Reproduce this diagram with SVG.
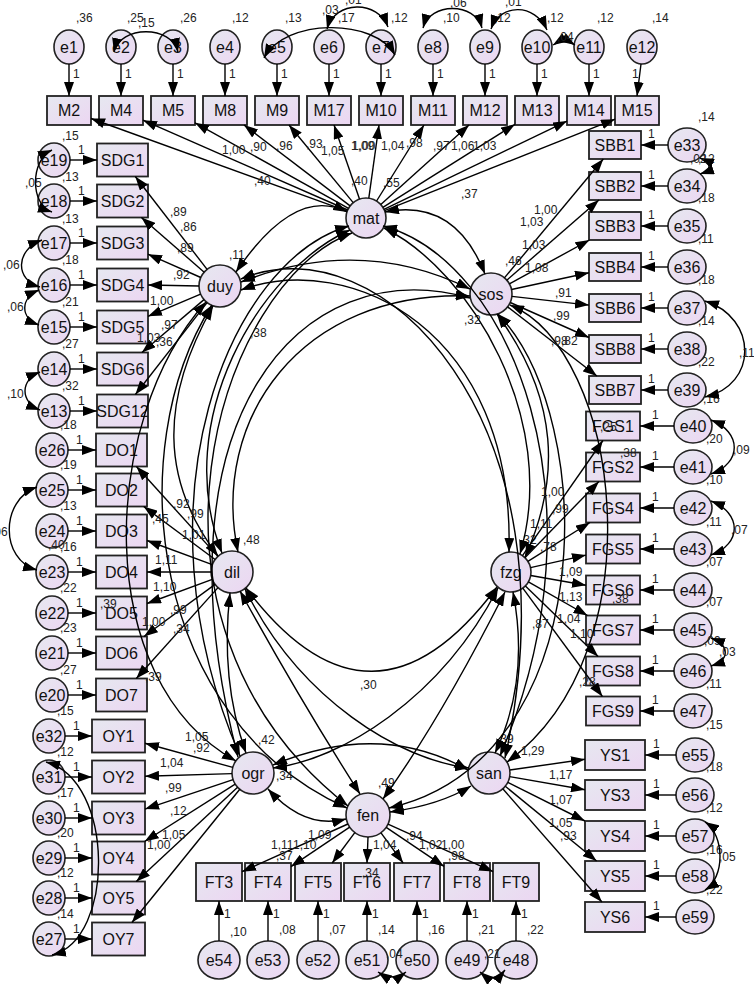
<svg xmlns="http://www.w3.org/2000/svg" width="754" height="984" viewBox="0 0 754 984">
<defs>
<linearGradient id="g" x1="0" y1="0" x2="1" y2="1"><stop offset="0" stop-color="#e6e8f0"/><stop offset="1" stop-color="#ecd6f2"/></linearGradient>
<marker id="a" viewBox="0 0 14 10" refX="14" refY="5" markerWidth="14" markerHeight="10" markerUnits="userSpaceOnUse" orient="auto-start-reverse"><path d="M0,0 L14,5 L0,10 z" fill="#000"/></marker>
<style>
.r{fill:url(#g);stroke:#222;stroke-width:1.8}
.c{fill:url(#g);stroke:#222;stroke-width:1.6}
.t{font-family:"Liberation Sans",Arial,sans-serif;font-size:16px;text-anchor:middle;fill:#111}
.v{font-family:"Liberation Sans",Arial,sans-serif;font-size:12px;fill:#222}
.l{fill:none;stroke:#000;stroke-width:1.4;marker-end:url(#a)}
.d{fill:none;stroke:#000;stroke-width:1.4;marker-start:url(#a);marker-end:url(#a)}
</style>
</defs>
<rect width="754" height="984" fill="#fff"/>
<g id="nodes">
<g id="e1"><ellipse class="c" cx="69" cy="47" rx="15" ry="17"/><text class="t" x="69" y="53">e1</text><text class="v" x="76" y="22">,36</text></g>
<g id="e2"><ellipse class="c" cx="121" cy="47" rx="15" ry="17"/><text class="t" x="121" y="53">e2</text><text class="v" x="127" y="22">,25</text></g>
<g id="e3"><ellipse class="c" cx="173" cy="47" rx="15" ry="17"/><text class="t" x="173" y="53">e3</text><text class="v" x="180" y="22">,26</text></g>
<g id="e4"><ellipse class="c" cx="225" cy="47" rx="15" ry="17"/><text class="t" x="225" y="53">e4</text><text class="v" x="232" y="22">,12</text></g>
<g id="e5"><ellipse class="c" cx="277" cy="47" rx="15" ry="17"/><text class="t" x="277" y="53">e5</text><text class="v" x="285" y="22">,13</text></g>
<g id="e6"><ellipse class="c" cx="329" cy="47" rx="15" ry="17"/><text class="t" x="329" y="53">e6</text><text class="v" x="338" y="22">,17</text></g>
<g id="e7"><ellipse class="c" cx="381" cy="47" rx="15" ry="17"/><text class="t" x="381" y="53">e7</text><text class="v" x="391" y="22">,12</text></g>
<g id="e8"><ellipse class="c" cx="433" cy="47" rx="15" ry="17"/><text class="t" x="433" y="53">e8</text><text class="v" x="443" y="22">,10</text></g>
<g id="e9"><ellipse class="c" cx="485" cy="47" rx="15" ry="17"/><text class="t" x="485" y="53">e9</text><text class="v" x="494" y="22">,12</text></g>
<g id="e10"><ellipse class="c" cx="537" cy="47" rx="15" ry="17"/><text class="t" x="537" y="53">e10</text><text class="v" x="547" y="22">,12</text></g>
<g id="e11"><ellipse class="c" cx="589" cy="47" rx="15" ry="17"/><text class="t" x="589" y="53">e11</text><text class="v" x="597" y="22">,12</text></g>
<g id="e12"><ellipse class="c" cx="642" cy="47" rx="15" ry="17"/><text class="t" x="642" y="53">e12</text><text class="v" x="652" y="22">,14</text></g>
<g id="M2"><rect class="r" x="47" y="96" width="44" height="29"/><text class="t" x="69" y="116">M2</text></g>
<g id="M4"><rect class="r" x="99" y="96" width="44" height="29"/><text class="t" x="121" y="116">M4</text></g>
<g id="M5"><rect class="r" x="151" y="96" width="44" height="29"/><text class="t" x="173" y="116">M5</text></g>
<g id="M8"><rect class="r" x="203" y="96" width="44" height="29"/><text class="t" x="225" y="116">M8</text></g>
<g id="M9"><rect class="r" x="255" y="96" width="44" height="29"/><text class="t" x="277" y="116">M9</text></g>
<g id="M17"><rect class="r" x="307" y="96" width="44" height="29"/><text class="t" x="329" y="116">M17</text></g>
<g id="M10"><rect class="r" x="359" y="96" width="44" height="29"/><text class="t" x="381" y="116">M10</text></g>
<g id="M11"><rect class="r" x="411" y="96" width="44" height="29"/><text class="t" x="433" y="116">M11</text></g>
<g id="M12"><rect class="r" x="463" y="96" width="44" height="29"/><text class="t" x="485" y="116">M12</text></g>
<g id="M13"><rect class="r" x="515" y="96" width="44" height="29"/><text class="t" x="537" y="116">M13</text></g>
<g id="M14"><rect class="r" x="567" y="96" width="44" height="29"/><text class="t" x="589" y="116">M14</text></g>
<g id="M15"><rect class="r" x="615" y="96" width="44" height="29"/><text class="t" x="637" y="116">M15</text></g>
<g id="e19"><ellipse class="c" cx="54" cy="160" rx="16" ry="17"/><text class="t" x="54" y="166">e19</text><text class="v" x="62" y="140">,15</text></g>
<g id="e18"><ellipse class="c" cx="54" cy="201" rx="16" ry="17"/><text class="t" x="54" y="207">e18</text><text class="v" x="62" y="181">,13</text></g>
<g id="e17"><ellipse class="c" cx="54" cy="243" rx="16" ry="17"/><text class="t" x="54" y="249">e17</text><text class="v" x="62" y="223">,13</text></g>
<g id="e16"><ellipse class="c" cx="54" cy="285" rx="16" ry="17"/><text class="t" x="54" y="291">e16</text><text class="v" x="62" y="264">,18</text></g>
<g id="e15"><ellipse class="c" cx="54" cy="327" rx="16" ry="17"/><text class="t" x="54" y="333">e15</text><text class="v" x="62" y="306">,21</text></g>
<g id="e14"><ellipse class="c" cx="54" cy="369" rx="16" ry="17"/><text class="t" x="54" y="375">e14</text><text class="v" x="62" y="348">,27</text></g>
<g id="e13"><ellipse class="c" cx="54" cy="411" rx="16" ry="17"/><text class="t" x="54" y="417">e13</text><text class="v" x="62" y="390">,32</text></g>
<g id="e26"><ellipse class="c" cx="52" cy="450" rx="16" ry="17"/><text class="t" x="52" y="456">e26</text><text class="v" x="60" y="429">,18</text></g>
<g id="e25"><ellipse class="c" cx="52" cy="490" rx="16" ry="17"/><text class="t" x="52" y="496">e25</text><text class="v" x="60" y="469">,19</text></g>
<g id="e24"><ellipse class="c" cx="52" cy="531" rx="16" ry="17"/><text class="t" x="52" y="537">e24</text><text class="v" x="60" y="510">,13</text></g>
<g id="e23"><ellipse class="c" cx="52" cy="572" rx="16" ry="17"/><text class="t" x="52" y="578">e23</text><text class="v" x="60" y="551">,16</text></g>
<g id="e22"><ellipse class="c" cx="52" cy="613" rx="16" ry="17"/><text class="t" x="52" y="619">e22</text><text class="v" x="60" y="592">,22</text></g>
<g id="e21"><ellipse class="c" cx="52" cy="653" rx="16" ry="17"/><text class="t" x="52" y="659">e21</text><text class="v" x="60" y="632">,23</text></g>
<g id="e20"><ellipse class="c" cx="52" cy="695" rx="16" ry="17"/><text class="t" x="52" y="701">e20</text><text class="v" x="60" y="674">,27</text></g>
<g id="e32"><ellipse class="c" cx="49" cy="736" rx="16" ry="17"/><text class="t" x="49" y="742">e32</text><text class="v" x="57" y="715">,15</text></g>
<g id="e31"><ellipse class="c" cx="49" cy="777" rx="16" ry="17"/><text class="t" x="49" y="783">e31</text><text class="v" x="57" y="756">,12</text></g>
<g id="e30"><ellipse class="c" cx="49" cy="818" rx="16" ry="17"/><text class="t" x="49" y="824">e30</text><text class="v" x="57" y="797">,17</text></g>
<g id="e29"><ellipse class="c" cx="49" cy="858" rx="16" ry="17"/><text class="t" x="49" y="864">e29</text><text class="v" x="57" y="837">,20</text></g>
<g id="e28"><ellipse class="c" cx="49" cy="898" rx="16" ry="17"/><text class="t" x="49" y="904">e28</text><text class="v" x="57" y="877">,12</text></g>
<g id="e27"><ellipse class="c" cx="49" cy="939" rx="16" ry="17"/><text class="t" x="49" y="945">e27</text><text class="v" x="57" y="918">,14</text></g>
<g id="SDG1"><rect class="r" x="97" y="143.5" width="51" height="33"/><text class="t" x="122.5" y="166">SDG1</text></g>
<g id="SDG2"><rect class="r" x="97" y="184.5" width="51" height="33"/><text class="t" x="122.5" y="207">SDG2</text></g>
<g id="SDG3"><rect class="r" x="97" y="226.5" width="51" height="33"/><text class="t" x="122.5" y="249">SDG3</text></g>
<g id="SDG4"><rect class="r" x="97" y="268.5" width="51" height="33"/><text class="t" x="122.5" y="291">SDG4</text></g>
<g id="SDG5"><rect class="r" x="97" y="310.5" width="51" height="33"/><text class="t" x="122.5" y="333">SDG5</text></g>
<g id="SDG6"><rect class="r" x="97" y="352.5" width="51" height="33"/><text class="t" x="122.5" y="375">SDG6</text></g>
<g id="SDG12"><rect class="r" x="97" y="394.5" width="51" height="33"/><text class="t" x="122.5" y="417">SDG12</text></g>
<g id="DO1"><rect class="r" x="96" y="433.5" width="51" height="33"/><text class="t" x="121.5" y="456">DO1</text></g>
<g id="DO2"><rect class="r" x="96" y="473.5" width="51" height="33"/><text class="t" x="121.5" y="496">DO2</text></g>
<g id="DO3"><rect class="r" x="96" y="514.5" width="51" height="33"/><text class="t" x="121.5" y="537">DO3</text></g>
<g id="DO4"><rect class="r" x="96" y="555.5" width="51" height="33"/><text class="t" x="121.5" y="578">DO4</text></g>
<g id="DO5"><rect class="r" x="96" y="596.5" width="51" height="33"/><text class="t" x="121.5" y="619">DO5</text></g>
<g id="DO6"><rect class="r" x="96" y="636.5" width="51" height="33"/><text class="t" x="121.5" y="659">DO6</text></g>
<g id="DO7"><rect class="r" x="96" y="678.5" width="51" height="33"/><text class="t" x="121.5" y="701">DO7</text></g>
<g id="OY1"><rect class="r" x="92" y="719.5" width="53" height="33"/><text class="t" x="118.5" y="742">OY1</text></g>
<g id="OY2"><rect class="r" x="92" y="760.5" width="53" height="33"/><text class="t" x="118.5" y="783">OY2</text></g>
<g id="OY3"><rect class="r" x="92" y="801.5" width="53" height="33"/><text class="t" x="118.5" y="824">OY3</text></g>
<g id="OY4"><rect class="r" x="92" y="841.5" width="53" height="33"/><text class="t" x="118.5" y="864">OY4</text></g>
<g id="OY5"><rect class="r" x="92" y="881.5" width="53" height="33"/><text class="t" x="118.5" y="904">OY5</text></g>
<g id="OY7"><rect class="r" x="92" y="922.5" width="53" height="33"/><text class="t" x="118.5" y="945">OY7</text></g>
<g id="SBB1"><rect class="r" x="589" y="131" width="52" height="28"/><text class="t" x="615" y="151">SBB1</text></g>
<g id="SBB2"><rect class="r" x="589" y="172" width="52" height="28"/><text class="t" x="615" y="192">SBB2</text></g>
<g id="SBB3"><rect class="r" x="589" y="212" width="52" height="28"/><text class="t" x="615" y="232">SBB3</text></g>
<g id="SBB4"><rect class="r" x="589" y="253" width="52" height="28"/><text class="t" x="615" y="273">SBB4</text></g>
<g id="SBB6"><rect class="r" x="589" y="294" width="52" height="28"/><text class="t" x="615" y="314">SBB6</text></g>
<g id="SBB8"><rect class="r" x="589" y="335" width="52" height="28"/><text class="t" x="615" y="355">SBB8</text></g>
<g id="SBB7"><rect class="r" x="589" y="376" width="52" height="28"/><text class="t" x="615" y="396">SBB7</text></g>
<g id="FGS1"><rect class="r" x="586" y="411.5" width="54" height="29"/><text class="t" x="613" y="432">FGS1</text></g>
<g id="FGS2"><rect class="r" x="586" y="452.5" width="54" height="29"/><text class="t" x="613" y="473">FGS2</text></g>
<g id="FGS4"><rect class="r" x="586" y="493.5" width="54" height="29"/><text class="t" x="613" y="514">FGS4</text></g>
<g id="FGS5"><rect class="r" x="586" y="534.5" width="54" height="29"/><text class="t" x="613" y="555">FGS5</text></g>
<g id="FGS6"><rect class="r" x="586" y="575.5" width="54" height="29"/><text class="t" x="613" y="596">FGS6</text></g>
<g id="FGS7"><rect class="r" x="586" y="615.5" width="54" height="29"/><text class="t" x="613" y="636">FGS7</text></g>
<g id="FGS8"><rect class="r" x="586" y="656.5" width="54" height="29"/><text class="t" x="613" y="677">FGS8</text></g>
<g id="FGS9"><rect class="r" x="586" y="696.5" width="54" height="29"/><text class="t" x="613" y="717">FGS9</text></g>
<g id="YS1"><rect class="r" x="585" y="740" width="60" height="30"/><text class="t" x="615" y="761">YS1</text></g>
<g id="YS3"><rect class="r" x="585" y="780" width="60" height="30"/><text class="t" x="615" y="801">YS3</text></g>
<g id="YS4"><rect class="r" x="585" y="821" width="60" height="30"/><text class="t" x="615" y="842">YS4</text></g>
<g id="YS5"><rect class="r" x="585" y="861" width="60" height="30"/><text class="t" x="615" y="882">YS5</text></g>
<g id="YS6"><rect class="r" x="585" y="902" width="60" height="30"/><text class="t" x="615" y="923">YS6</text></g>
<g id="e33"><ellipse class="c" cx="687" cy="145" rx="19" ry="17"/><text class="t" x="687" y="151">e33</text><text class="v" x="698" y="121">,14</text></g>
<g id="e34"><ellipse class="c" cx="687" cy="186" rx="19" ry="17"/><text class="t" x="687" y="192">e34</text><text class="v" x="698" y="163">,12</text></g>
<g id="e35"><ellipse class="c" cx="687" cy="226" rx="19" ry="17"/><text class="t" x="687" y="232">e35</text><text class="v" x="698" y="202">,18</text></g>
<g id="e36"><ellipse class="c" cx="687" cy="267" rx="19" ry="17"/><text class="t" x="687" y="273">e36</text><text class="v" x="698" y="243">,11</text></g>
<g id="e37"><ellipse class="c" cx="687" cy="308" rx="19" ry="17"/><text class="t" x="687" y="314">e37</text><text class="v" x="698" y="284">,18</text></g>
<g id="e38"><ellipse class="c" cx="687" cy="349" rx="19" ry="17"/><text class="t" x="687" y="355">e38</text><text class="v" x="698" y="325">,14</text></g>
<g id="e39"><ellipse class="c" cx="687" cy="390" rx="19" ry="17"/><text class="t" x="687" y="396">e39</text><text class="v" x="698" y="366">,22</text></g>
<g id="e40"><ellipse class="c" cx="693" cy="426" rx="19" ry="17"/><text class="t" x="693" y="432">e40</text><text class="v" x="703" y="403">,16</text></g>
<g id="e41"><ellipse class="c" cx="693" cy="467" rx="19" ry="17"/><text class="t" x="693" y="473">e41</text><text class="v" x="706" y="443">,20</text></g>
<g id="e42"><ellipse class="c" cx="693" cy="508" rx="19" ry="17"/><text class="t" x="693" y="514">e42</text><text class="v" x="706" y="484">,10</text></g>
<g id="e43"><ellipse class="c" cx="693" cy="549" rx="19" ry="17"/><text class="t" x="693" y="555">e43</text><text class="v" x="706" y="526">,11</text></g>
<g id="e44"><ellipse class="c" cx="693" cy="590" rx="19" ry="17"/><text class="t" x="693" y="596">e44</text><text class="v" x="706" y="566">,07</text></g>
<g id="e45"><ellipse class="c" cx="693" cy="630" rx="19" ry="17"/><text class="t" x="693" y="636">e45</text><text class="v" x="706" y="606">,07</text></g>
<g id="e46"><ellipse class="c" cx="693" cy="671" rx="19" ry="17"/><text class="t" x="693" y="677">e46</text><text class="v" x="704" y="645">,09</text></g>
<g id="e47"><ellipse class="c" cx="693" cy="711" rx="19" ry="17"/><text class="t" x="693" y="717">e47</text><text class="v" x="706" y="688">,11</text></g>
<g id="e55"><ellipse class="c" cx="695" cy="755" rx="19" ry="17"/><text class="t" x="695" y="761">e55</text><text class="v" x="706" y="729">,15</text></g>
<g id="e56"><ellipse class="c" cx="695" cy="795" rx="19" ry="17"/><text class="t" x="695" y="801">e56</text><text class="v" x="706" y="771">,18</text></g>
<g id="e57"><ellipse class="c" cx="695" cy="836" rx="19" ry="17"/><text class="t" x="695" y="842">e57</text><text class="v" x="706" y="812">,12</text></g>
<g id="e58"><ellipse class="c" cx="695" cy="876" rx="19" ry="17"/><text class="t" x="695" y="882">e58</text><text class="v" x="706" y="854">,16</text></g>
<g id="e59"><ellipse class="c" cx="695" cy="917" rx="19" ry="17"/><text class="t" x="695" y="923">e59</text><text class="v" x="706" y="894">,22</text></g>
<g id="FT3"><rect class="r" x="196" y="863" width="46" height="38"/><text class="t" x="219" y="888">FT3</text></g>
<g id="FT4"><rect class="r" x="245" y="863" width="46" height="38"/><text class="t" x="268" y="888">FT4</text></g>
<g id="FT5"><rect class="r" x="295" y="863" width="46" height="38"/><text class="t" x="318" y="888">FT5</text></g>
<g id="FT6"><rect class="r" x="344" y="863" width="46" height="38"/><text class="t" x="367" y="888">FT6</text></g>
<g id="FT7"><rect class="r" x="394" y="863" width="46" height="38"/><text class="t" x="417" y="888">FT7</text></g>
<g id="FT8"><rect class="r" x="444" y="863" width="46" height="38"/><text class="t" x="467" y="888">FT8</text></g>
<g id="FT9"><rect class="r" x="493" y="863" width="46" height="38"/><text class="t" x="516" y="888">FT9</text></g>
<g id="e54"><ellipse class="c" cx="219" cy="960" rx="21" ry="19"/><text class="t" x="219" y="966">e54</text><text class="v" x="230" y="936">,10</text></g>
<g id="e53"><ellipse class="c" cx="268" cy="960" rx="21" ry="19"/><text class="t" x="268" y="966">e53</text><text class="v" x="279" y="934">,08</text></g>
<g id="e52"><ellipse class="c" cx="318" cy="960" rx="21" ry="19"/><text class="t" x="318" y="966">e52</text><text class="v" x="329" y="934">,07</text></g>
<g id="e51"><ellipse class="c" cx="367" cy="960" rx="21" ry="19"/><text class="t" x="367" y="966">e51</text><text class="v" x="378" y="934">,14</text></g>
<g id="e50"><ellipse class="c" cx="417" cy="960" rx="21" ry="19"/><text class="t" x="417" y="966">e50</text><text class="v" x="428" y="934">,16</text></g>
<g id="e49"><ellipse class="c" cx="467" cy="960" rx="21" ry="19"/><text class="t" x="467" y="966">e49</text><text class="v" x="478" y="934">,21</text></g>
<g id="e48"><ellipse class="c" cx="516" cy="960" rx="21" ry="19"/><text class="t" x="516" y="966">e48</text><text class="v" x="527" y="934">,22</text></g>
<g id="mat"><circle class="c" cx="366" cy="218" r="20"/><text class="t" x="366" y="224">mat</text><text class="v" x="383" y="187">,55</text></g>
<g id="duy"><circle class="c" cx="220" cy="286" r="21"/><text class="t" x="220" y="292">duy</text><text class="v" x="229" y="259">,11</text></g>
<g id="sos"><circle class="c" cx="491" cy="294" r="21"/><text class="t" x="491" y="300">sos</text><text class="v" x="464" y="324">,32</text></g>
<g id="dil"><circle class="c" cx="232" cy="572" r="21"/><text class="t" x="232" y="578">dil</text><text class="v" x="243" y="544">,48</text></g>
<g id="fzg"><circle class="c" cx="511" cy="572" r="20"/><text class="t" x="511" y="578">fzg</text><text class="v" x="520" y="544">,32</text></g>
<g id="ogr"><circle class="c" cx="253" cy="773" r="21"/><text class="t" x="253" y="779">ogr</text><text class="v" x="258" y="744">,42</text></g>
<g id="fen"><circle class="c" cx="368" cy="815" r="22"/><text class="t" x="368" y="821">fen</text><text class="v" x="378" y="787">,49</text></g>
<g id="san"><circle class="c" cx="489" cy="773" r="21"/><text class="t" x="489" y="779">san</text><text class="v" x="497" y="743">,39</text></g>
</g>
<g id="connectors">
<path class="l" d="M69,64V96"/><path class="l" d="M121,64V96"/><path class="l" d="M173,64V96"/><path class="l" d="M225,64V96"/><path class="l" d="M277,64V96"/><path class="l" d="M329,64V96"/><path class="l" d="M381,64V96"/><path class="l" d="M433,64V96"/><path class="l" d="M485,64V96"/><path class="l" d="M537,64V96"/><path class="l" d="M589,64V96"/><path class="l" d="M641,64L637,96"/>
<path class="l" d="M70,160H97"/><path class="l" d="M70,201H97"/><path class="l" d="M70,243H97"/><path class="l" d="M70,285H97"/><path class="l" d="M70,327H97"/><path class="l" d="M70,369H97"/><path class="l" d="M70,411H97"/><path class="l" d="M68,450H96"/><path class="l" d="M68,490H96"/><path class="l" d="M68,531H96"/><path class="l" d="M68,572H96"/><path class="l" d="M68,613H96"/><path class="l" d="M68,653H96"/><path class="l" d="M68,695H96"/><path class="l" d="M65,736H92"/><path class="l" d="M65,777H92"/><path class="l" d="M65,818H92"/><path class="l" d="M65,858H92"/><path class="l" d="M65,898H92"/><path class="l" d="M65,939H92"/>
<path class="l" d="M668,145H641"/><path class="l" d="M668,186H641"/><path class="l" d="M668,226H641"/><path class="l" d="M668,267H641"/><path class="l" d="M668,308H641"/><path class="l" d="M668,349H641"/><path class="l" d="M668,390H641"/><path class="l" d="M674,426H640"/><path class="l" d="M674,467H640"/><path class="l" d="M674,508H640"/><path class="l" d="M674,549H640"/><path class="l" d="M674,590H640"/><path class="l" d="M674,630H640"/><path class="l" d="M674,671H640"/><path class="l" d="M674,711H640"/><path class="l" d="M676,755H645"/><path class="l" d="M676,795H645"/><path class="l" d="M676,836H645"/><path class="l" d="M676,876H645"/><path class="l" d="M676,917H645"/>
<path class="l" d="M219,941V901"/><path class="l" d="M268,941V901"/><path class="l" d="M318,941V901"/><path class="l" d="M367,941V901"/><path class="l" d="M417,941V901"/><path class="l" d="M467,941V901"/><path class="l" d="M516,941V901"/>
<path class="l" d="M347.2,211.2L91,118.5"/><path class="l" d="M347.7,210L143,120.2"/><path class="l" d="M348.5,208.3L195,122.8"/><path class="l" d="M350.1,205.9L244,125"/><path class="l" d="M353.2,202.6L289,125"/><path class="l" d="M359.5,199.1L334,125"/><path class="l" d="M368.8,198.2L379,125"/><path class="l" d="M376.6,201L424,125"/><path class="l" d="M380.8,204.6L469,125"/><path class="l" d="M382.9,207.4L515,124.3"/><path class="l" d="M384,209.3L567,121.1"/><path class="l" d="M384.6,210.6L615,119.2"/>
<path class="l" d="M207.1,269.4L135.3,176.5"/><path class="l" d="M204.2,272.2L141.4,217.5"/><path class="l" d="M200.8,277.5L148,254.2"/><path class="l" d="M199,286L148,285"/><path class="l" d="M200.6,294.1L148,316.3"/><path class="l" d="M204,299.6L141.9,352.5"/><path class="l" d="M207.1,302.6L135.4,394.5"/>
<path class="l" d="M504.4,277.9L603.3,159"/><path class="l" d="M506.8,280.2L598.9,200"/><path class="l" d="M509.4,283.9L589.5,240"/><path class="l" d="M511.5,289.5L589,272.7"/><path class="l" d="M511.9,296.4L589,305.1"/><path class="l" d="M510.2,302.5L589,337.5"/><path class="l" d="M507.6,306.9L596.9,376"/>
<path class="l" d="M522.5,555.6L602.9,440.5"/><path class="l" d="M524.9,557.7L598.9,481.5"/><path class="l" d="M527.9,561.4L589.9,522.5"/><path class="l" d="M530.5,567.6L586,555.1"/><path class="l" d="M530.7,575.5L586,585.2"/><path class="l" d="M528.4,581.9L587.5,615.5"/><path class="l" d="M525.4,585.9L598.1,656.5"/><path class="l" d="M522.8,588.1L602.4,696.5"/>
<path class="l" d="M217.9,556.4L136.4,466.5"/><path class="l" d="M215.1,559.5L143.7,506.5"/><path class="l" d="M212.3,564.7L147,540.5"/><path class="l" d="M211,572L147,572"/><path class="l" d="M212.3,579.3L147,603.5"/><path class="l" d="M215.1,584.4L144,636.5"/><path class="l" d="M218,587.6L136.3,678.5"/>
<path class="l" d="M232.8,767.4L145,743.3"/><path class="l" d="M232,773.6L145,776.2"/><path class="l" d="M233.1,779.7L145,809.1"/><path class="l" d="M235.2,784.2L144.6,841.5"/><path class="l" d="M237.6,787.3L136.3,881.5"/><path class="l" d="M239.8,789.3L131.9,922.5"/>
<path class="l" d="M347.9,824L242,871.7"/><path class="l" d="M349.7,827.2L291,866.6"/><path class="l" d="M354.8,832.6L332.2,863"/><path class="l" d="M368,837L367,863"/><path class="l" d="M381,832.8L403.1,863"/><path class="l" d="M386.2,827.3L444,866.4"/><path class="l" d="M388,824.1L493,871.6"/>
<path class="l" d="M509.8,770L585,759.3"/><path class="l" d="M509.7,776.6L585,789.8"/><path class="l" d="M507.8,782.4L585,821"/><path class="l" d="M505.3,786.3L596.6,861"/><path class="l" d="M502.8,788.8L601.9,902"/>
<path class="d" d="M347,212 Q295,185 236,272"/>
<path class="d" d="M385,212 Q455,198 485,274"/>
<path class="d" d="M241,282 Q360,235 470,289"/>
<path class="d" d="M241,290 C350,250 515,330 509,552"/>
<path class="d" d="M238,552 C210,420 300,290 470,296"/>
<path class="d" d="M350,230 C260,270 170,420 222,553"/>
<path class="d" d="M384,228 C470,270 560,420 520,554"/>
<path class="d" d="M349,226 C230,260 130,500 240,756"/>
<path class="d" d="M383,226 C510,260 610,500 500,756"/>
<path class="d" d="M352,233 C220,280 110,620 348,806"/>
<path class="d" d="M470,298 C300,250 150,420 238,757"/>
<path class="d" d="M498,314 C600,420 600,760 389,808"/>
<path class="d" d="M510,305 C620,350 660,650 507,762"/>
<path class="d" d="M497,314 C560,400 560,480 525,557"/>
<path class="d" d="M213,306 C160,400 160,480 218,556"/>
<path class="d" d="M206,302 C100,420 90,680 236,761"/>
<path class="d" d="M212,305 C120,450 150,720 347,808"/>
<path class="d" d="M241,279 C380,220 580,420 505,758"/>
<path class="d" d="M246,588 Q372,755 497,587"/>
<path class="d" d="M230,593 Q220,680 246,753"/>
<path class="d" d="M240,591 Q300,700 360,794"/>
<path class="d" d="M245,589 C300,700 400,760 469,768"/>
<path class="d" d="M498,588 C440,700 340,760 273,768"/>
<path class="d" d="M505,592 Q440,720 383,799"/>
<path class="d" d="M513,592 Q530,680 495,753"/>
<path class="d" d="M268,789 Q305,830 346,819"/>
<path class="d" d="M273,765 Q380,720 468,770"/>
<path class="d" d="M390,812 Q440,805 471,786"/>
<path class="d" d="M114,52 C120,25 172,25 178,52"/>
<path class="d" d="M264,58 C285,18 375,18 395,55"/>
<path class="d" d="M327,29 C335,0 378,0 388,27"/>
<path class="d" d="M423,28 C430,2 475,2 482,28"/>
<path class="d" d="M491,29 C500,3 535,3 547,30"/>
<path class="d" d="M553,45 Q564,38 575,45"/>
<path class="d" d="M52,150 C30,160 30,205 52,212"/>
<path class="d" d="M42,240 C15,250 15,280 40,287"/>
<path class="d" d="M39,290 C20,298 20,318 39,325"/>
<path class="d" d="M40,372 C20,380 20,402 40,410"/>
<path class="d" d="M37,487 C0,500 0,560 37,570"/>
<path class="d" d="M46,762 C115,780 115,940 52,955"/>
<path class="d" d="M700,158 C712,163 712,170 700,174"/>
<path class="d" d="M705,301 C758,318 758,385 705,397"/>
<path class="d" d="M711,420 C742,432 742,463 711,474"/>
<path class="d" d="M711,501 C742,513 742,544 711,555"/>
<path class="d" d="M711,638 C730,645 730,660 711,666"/>
<path class="d" d="M705,822 C725,835 725,878 705,890"/>
<path class="d" d="M378,972 Q393,982 406,972"/>
<path class="d" d="M480,972 Q494,984 505,970"/>
</g>
<g id="labels">
<text class="v" x="73" y="78">1</text><text class="v" x="125" y="78">1</text><text class="v" x="177" y="78">1</text><text class="v" x="229" y="78">1</text><text class="v" x="281" y="78">1</text><text class="v" x="333" y="78">1</text><text class="v" x="385" y="78">1</text><text class="v" x="437" y="78">1</text><text class="v" x="489" y="78">1</text><text class="v" x="541" y="78">1</text><text class="v" x="593" y="78">1</text><text class="v" x="632" y="78">1</text>
<text class="v" x="78" y="154">1</text><text class="v" x="78" y="195">1</text><text class="v" x="78" y="237">1</text><text class="v" x="78" y="279">1</text><text class="v" x="78" y="321">1</text><text class="v" x="78" y="363">1</text><text class="v" x="78" y="405">1</text><text class="v" x="76" y="444">1</text><text class="v" x="76" y="484">1</text><text class="v" x="76" y="525">1</text><text class="v" x="76" y="566">1</text><text class="v" x="76" y="607">1</text><text class="v" x="76" y="647">1</text><text class="v" x="76" y="689">1</text><text class="v" x="73" y="730">1</text><text class="v" x="73" y="771">1</text><text class="v" x="73" y="812">1</text><text class="v" x="73" y="852">1</text><text class="v" x="73" y="892">1</text><text class="v" x="73" y="933">1</text>
<text class="v" x="648" y="138">1</text><text class="v" x="648" y="179">1</text><text class="v" x="648" y="219">1</text><text class="v" x="648" y="260">1</text><text class="v" x="648" y="301">1</text><text class="v" x="648" y="342">1</text><text class="v" x="648" y="383">1</text><text class="v" x="652" y="419">1</text><text class="v" x="652" y="460">1</text><text class="v" x="652" y="501">1</text><text class="v" x="652" y="542">1</text><text class="v" x="652" y="583">1</text><text class="v" x="652" y="623">1</text><text class="v" x="652" y="664">1</text><text class="v" x="652" y="704">1</text><text class="v" x="653" y="748">1</text><text class="v" x="653" y="788">1</text><text class="v" x="653" y="829">1</text><text class="v" x="653" y="869">1</text><text class="v" x="653" y="910">1</text>
<text class="v" x="224" y="918">1</text><text class="v" x="273" y="918">1</text><text class="v" x="323" y="918">1</text><text class="v" x="372" y="918">1</text><text class="v" x="422" y="918">1</text><text class="v" x="472" y="918">1</text><text class="v" x="521" y="918">1</text>
<text class="v" x="138" y="27">,15</text><text class="v" x="322" y="14">,03</text><text class="v" x="345" y="4">,01</text><text class="v" x="450" y="7">,06</text><text class="v" x="505" y="6">,01</text><text class="v" x="557" y="41">,04</text>
<text class="v" x="25" y="187">,05</text><text class="v" x="3" y="269">,06</text><text class="v" x="7" y="311">,06</text><text class="v" x="7" y="398">,10</text><text class="v" x="-9" y="536">,06</text><text class="v" x="48" y="549">,40</text>
<text class="v" x="690" y="163">,02</text><text class="v" x="739" y="357">,11</text><text class="v" x="733" y="454">,09</text><text class="v" x="731" y="534">,07</text><text class="v" x="719" y="656">,03</text><text class="v" x="719" y="861">,05</text><text class="v" x="386" y="958">,04</text><text class="v" x="484" y="958">,21</text>
<text class="v" x="222" y="154">1,00</text><text class="v" x="250" y="151">,90</text><text class="v" x="276" y="150">,96</text><text class="v" x="306" y="148">,93</text><text class="v" x="321" y="155">1,05</text><text class="v" x="351" y="150">1,09</text><text class="v" x="352" y="150">1,00</text><text class="v" x="381" y="150">1,04</text><text class="v" x="406" y="147">,98</text><text class="v" x="433" y="150">,97</text><text class="v" x="451" y="150">1,06</text><text class="v" x="473" y="150">1,03</text>
<text class="v" x="254" y="185">,40</text><text class="v" x="351" y="185">,40</text><text class="v" x="461" y="198">,37</text>
<text class="v" x="170" y="216">,89</text><text class="v" x="180" y="231">,86</text><text class="v" x="177" y="252">,89</text><text class="v" x="173" y="279">,92</text><text class="v" x="150" y="305">1,00</text><text class="v" x="161" y="329">,97</text><text class="v" x="137" y="342">1,03</text><text class="v" x="156" y="346">,36</text>
<text class="v" x="534" y="214">1,00</text><text class="v" x="520" y="226">1,03</text><text class="v" x="522" y="249">1,03</text><text class="v" x="505" y="265">,46</text><text class="v" x="525" y="272">1,08</text><text class="v" x="555" y="297">,91</text><text class="v" x="553" y="320">,99</text><text class="v" x="551" y="345">,98</text><text class="v" x="561" y="345">,82</text>
<text class="v" x="541" y="496">1,00</text><text class="v" x="552" y="513">,99</text><text class="v" x="530" y="528">1,11</text><text class="v" x="540" y="551">,78</text><text class="v" x="559" y="576">1,09</text><text class="v" x="559" y="601">1,13</text><text class="v" x="557" y="623">1,04</text><text class="v" x="570" y="638">1,10</text><text class="v" x="532" y="628">,87</text><text class="v" x="579" y="686">,28</text><text class="v" x="612" y="603">,38</text><text class="v" x="620" y="457">,38</text><text class="v" x="600" y="431">,25</text>
<text class="v" x="173" y="508">,92</text><text class="v" x="187" y="518">,99</text><text class="v" x="152" y="523">,45</text><text class="v" x="182" y="539">1,01</text><text class="v" x="155" y="564">1,11</text><text class="v" x="153" y="591">1,10</text><text class="v" x="170" y="614">,99</text><text class="v" x="142" y="626">1,00</text><text class="v" x="173" y="633">,34</text><text class="v" x="100" y="608">,39</text><text class="v" x="145" y="681">,39</text>
<text class="v" x="185" y="741">1,05</text><text class="v" x="193" y="752">,92</text><text class="v" x="160" y="767">1,04</text><text class="v" x="165" y="792">,99</text><text class="v" x="170" y="815">,12</text><text class="v" x="162" y="839">1,05</text><text class="v" x="147" y="849">1,00</text><text class="v" x="276" y="780">,34</text>
<text class="v" x="271" y="849">1,11</text><text class="v" x="293" y="849">1,10</text><text class="v" x="308" y="839">1,09</text><text class="v" x="276" y="860">,37</text><text class="v" x="373" y="849">1,04</text><text class="v" x="406" y="840">,94</text><text class="v" x="419" y="849">1,02</text><text class="v" x="441" y="849">1,00</text><text class="v" x="448" y="860">,98</text><text class="v" x="362" y="877">,34</text>
<text class="v" x="521" y="755">1,29</text><text class="v" x="549" y="779">1,17</text><text class="v" x="549" y="804">1,07</text><text class="v" x="549" y="827">1,05</text><text class="v" x="560" y="840">,93</text>
<text class="v" x="250" y="337">,38</text><text class="v" x="360" y="689">,30</text>
</g>
</svg>
